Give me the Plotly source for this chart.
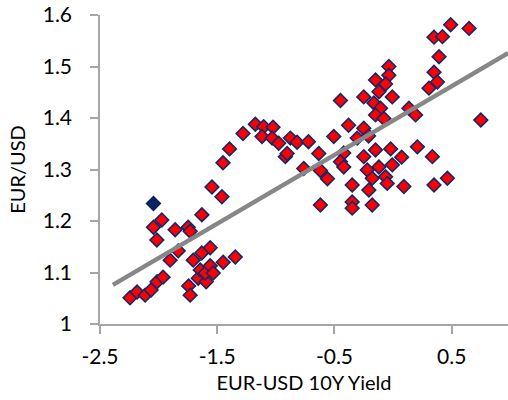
import plotly.graph_objects as go

# EUR-USD 10Y yield spread vs. EUR/USD spot
yield_spread = [
    -2.244, -2.184, -2.115, -2.064, -2.013, -1.962, -1.744, -1.731, -1.662, -1.594,
    -1.645, -1.603, -1.560, -1.534, -1.902, -1.833, -1.705, -1.632, -1.560, -1.449,
    -1.346, -2.015, -2.044, -1.973, -1.859, -1.748, -1.731, -1.631, -1.545, -1.460,
    -1.451, -1.395, -1.280, -1.175, -1.104, -1.024, -1.118, -1.032, -0.976, -0.876,
    -0.819, -0.722, -0.919, -0.904, -0.634, -0.762, -0.620, -0.560, -0.620,
    -0.506, -0.449, -0.380, -0.250, -0.306, -0.209, -0.250, -0.121, -0.007, -0.164,
    -0.107, -0.150, -0.079, -0.036, -0.036, -0.150, -0.064, -0.421, -0.250, -0.150,
    -0.021, 0.073, 0.207, -0.449, -0.421, -0.220, -0.121, -0.007, -0.064, -0.050,
    -0.178, 0.092, -0.349, -0.207, -0.349, -0.349, -0.178, 0.135, 0.192, 0.335,
    0.349, 0.463,
    0.491, 0.648, 0.349, 0.421, 0.392, 0.349, 0.378, 0.306, 0.748,
]
eurusd = [
    1.051, 1.062, 1.056, 1.066, 1.082, 1.091, 1.074, 1.056, 1.089, 1.082,
    1.105, 1.099, 1.113, 1.099, 1.124, 1.142, 1.124, 1.138, 1.148, 1.120,
    1.130, 1.163, 1.188, 1.202, 1.183, 1.188, 1.180, 1.212, 1.266, 1.247,
    1.313, 1.340, 1.370, 1.388, 1.383, 1.382, 1.364, 1.361, 1.351, 1.361,
    1.353, 1.354, 1.325, 1.331, 1.331, 1.302, 1.298, 1.282, 1.231,
    1.364, 1.434, 1.386, 1.380, 1.361, 1.365, 1.441, 1.451, 1.441, 1.429,
    1.419, 1.406, 1.399, 1.500, 1.483, 1.474, 1.466, 1.332, 1.325, 1.338,
    1.340, 1.324, 1.344, 1.315, 1.305, 1.299, 1.305, 1.309, 1.286, 1.273,
    1.283, 1.267, 1.270, 1.260, 1.237, 1.225, 1.231, 1.419, 1.406, 1.325,
    1.270, 1.283,
    1.581, 1.574, 1.557, 1.558, 1.519, 1.489, 1.470, 1.458, 1.396,
]

# latest observation, highlighted
latest_spread = [-2.044]
latest_eurusd = [1.234]

# linear trend endpoints
trend_x = [-2.39, 0.98]
trend_y = [1.076, 1.526]

x_ticks = [-2.5, -1.5, -0.5, 0.5]
y_ticks = [1, 1.1, 1.2, 1.3, 1.4, 1.5, 1.6]
y_tick_text = ["1", "1.1", "1.2", "1.3", "1.4", "1.5", "1.6"]

FONT = "Lato, 'Open Sans', sans-serif"
FS = 21

fig = go.Figure()

fig.add_trace(go.Scatter(
    x=yield_spread, y=eurusd, mode="markers",
    marker=dict(symbol="diamond", size=10.5, color="#ff0000",
                line=dict(color="#13286a", width=1.6)),
    showlegend=False, hoverinfo="x+y",
))

fig.add_trace(go.Scatter(
    x=latest_spread, y=latest_eurusd, mode="markers",
    marker=dict(symbol="diamond", size=10.5, color="#0b2260",
                line=dict(color="#0b2260", width=1.6)),
    showlegend=False, hoverinfo="x+y",
))

fig.add_trace(go.Scatter(
    x=trend_x, y=trend_y, mode="lines",
    line=dict(color="#878787", width=4.5),
    showlegend=False, hoverinfo="skip",
))

fig.update_layout(
    width=508, height=400,
    margin=dict(l=100, r=0, t=15, b=76),
    paper_bgcolor="white", plot_bgcolor="white",
    font=dict(family=FONT, color="#000000", size=FS),
)

fig.update_xaxes(
    range=[-2.5, 0.98], tickmode="array", tickvals=x_ticks,
    ticktext=[str(v) for v in x_ticks],
    showgrid=False, zeroline=False,
    showline=True, linecolor="#a6a6a6", linewidth=1.5,
    ticks="outside", ticklen=8, tickcolor="#a6a6a6", tickwidth=1.5,
    tickfont=dict(size=FS), ticklabelstandoff=5,
    title=dict(text="EUR-USD 10Y Yield", font=dict(size=20), standoff=9),
)

fig.update_yaxes(
    range=[1, 1.6], tickmode="array", tickvals=y_ticks, ticktext=y_tick_text,
    showgrid=False, zeroline=False,
    showline=True, linecolor="#a6a6a6", linewidth=1.5,
    ticks="outside", ticklen=8, tickcolor="#a6a6a6", tickwidth=1.5,
    tickfont=dict(size=FS), ticklabelstandoff=14,
    title=dict(text="EUR/USD", font=dict(size=20), standoff=12),
)

fig.write_html("out.html")
